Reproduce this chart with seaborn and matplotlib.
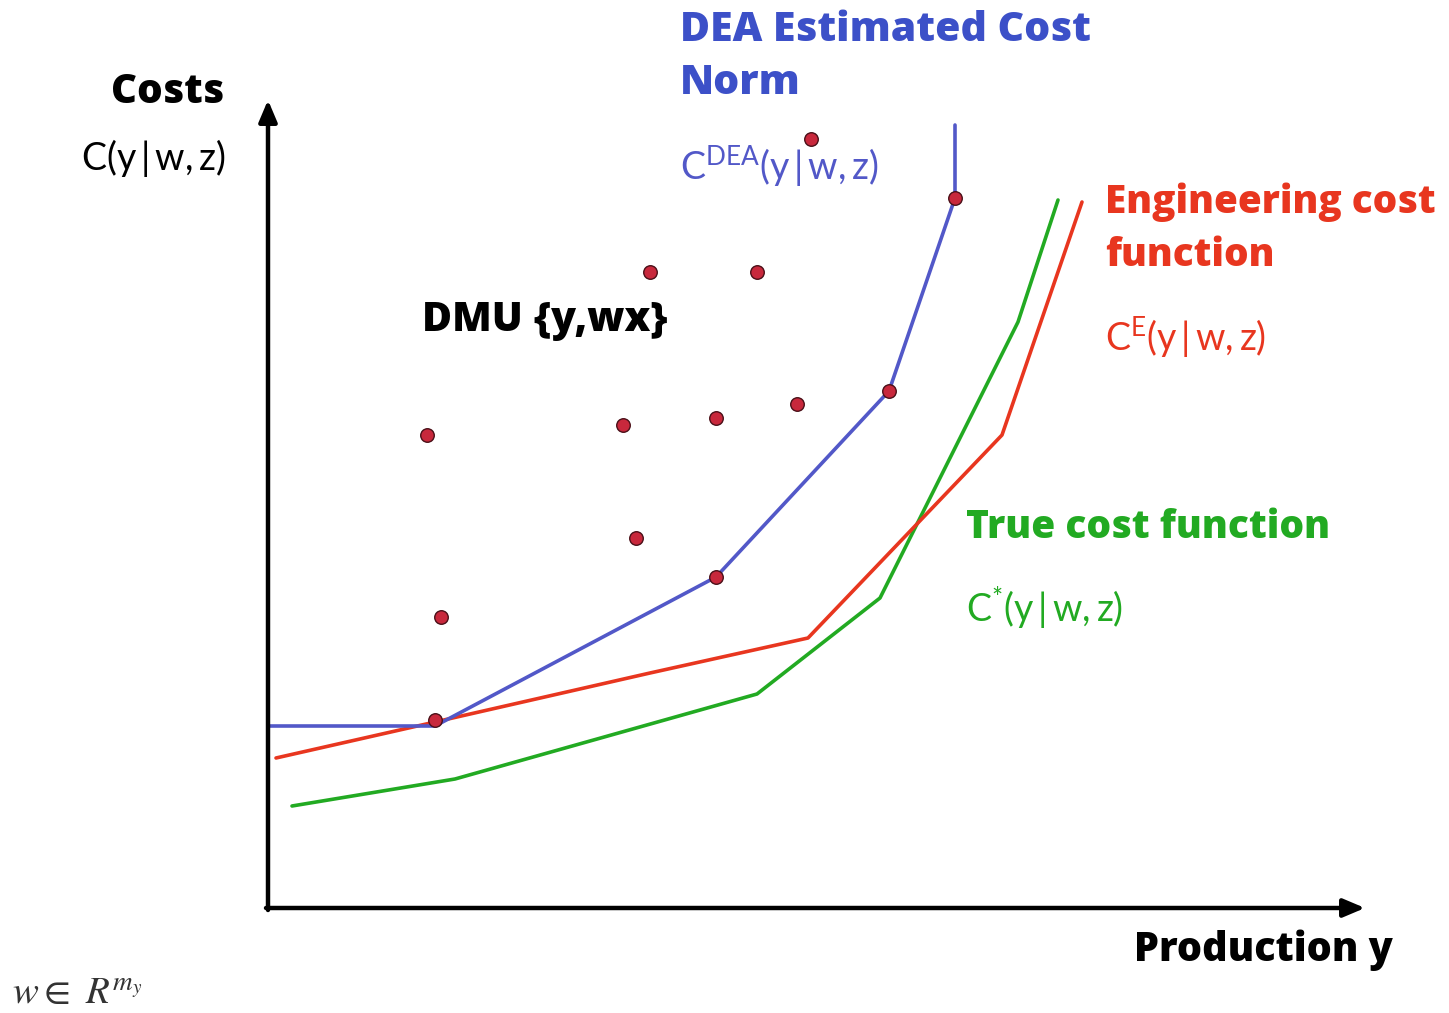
import matplotlib
matplotlib.use("Agg")
import matplotlib.pyplot as plt
import seaborn as sns
import pandas as pd

sns.set_style("white")
plt.rcParams['font.family'] = ['Lato', 'DejaVu Sans']
plt.rcParams['mathtext.fontset'] = 'custom'
plt.rcParams['mathtext.rm'] = 'Lato'
plt.rcParams['mathtext.it'] = 'Lato:italic'

# production (y) and cost values, origin at the axis corner
dea_y = [0, 167, 448, 621, 687, 687]
dea_c = [182, 182, 331, 517, 710, 783]

eng_y = [8, 167, 382, 540, 734, 814]
eng_c = [150, 186, 235, 270, 473, 706]

true_y = [24, 187, 489, 612, 750, 790]
true_c = [102, 129, 214, 310, 586, 708]

dmu_y = [167, 448, 621, 687, 159, 173, 355, 368, 448, 529, 382, 489, 543]
dmu_c = [188, 331, 517, 710, 473, 291, 483, 370, 490, 504, 636, 636, 769]

blue = "#5258c8"
red = "#e8361f"
green = "#22aa22"
bold = ['Open Sans', 'DejaVu Sans']

fig = plt.figure(figsize=(14.49, 10.13), dpi=100)
ax = fig.add_axes([0, 0, 1, 1])
ax.set_xlim(-268, 1181)
ax.set_ylim(-105, 908)
ax.axis("off")

sns.lineplot(x=true_y, y=true_c, color=green, lw=2.6, ax=ax, sort=False, estimator=None)
sns.lineplot(x=eng_y, y=eng_c, color=red, lw=2.6, ax=ax, sort=False, estimator=None)
sns.lineplot(x=dea_y, y=dea_c, color=blue, lw=2.6, ax=ax, sort=False, estimator=None)
sns.scatterplot(x=dmu_y, y=dmu_c, color="#c8283c", edgecolor="#4a1018",
                linewidth=1.0, s=95, ax=ax, zorder=5)

# axes arrows
arrow = dict(arrowstyle="-|>,head_length=1.3,head_width=0.55", color="black",
             lw=3.2, shrinkA=0, shrinkB=0)
ax.annotate("", xy=(0, 808), xytext=(0, -2), arrowprops=arrow)
ax.annotate("", xy=(1097, 0), xytext=(-2, 0), arrowprops=arrow)

ax.text(-44, 816, "Costs", ha="right", va="center", fontsize=29,
        fontweight="heavy", family=bold, color="black")
ax.text(-42, 750, r"$\mathregular{C(y\,|\,w,z)}$", ha="right", va="center",
        fontsize=27, color="black")

ax.text(412, 878, "DEA Estimated Cost", color="#3c50c8", ha="left", va="center",
        fontsize=29.5, fontweight="heavy", family=bold)
ax.text(412, 825, "Norm", color="#3c50c8", ha="left", va="center",
        fontsize=29.5, fontweight="heavy", family=bold)
ax.text(412, 742, r"$\mathregular{C^{DEA}(y\,|\,w,z)}$", color=blue, ha="left",
        va="center", fontsize=27)

ax.text(837, 706, "Engineering cost", color=red, ha="left", va="center",
        fontsize=27.8, fontweight="heavy", family=bold)
ax.text(837, 653, "function", color=red, ha="left", va="center",
        fontsize=27.8, fontweight="heavy", family=bold)
ax.text(837, 571, r"$\mathregular{C^{E}(y\,|\,w,z)}$", color=red, ha="left",
        va="center", fontsize=27)

ax.text(698, 381, "True cost function", color=green, ha="left", va="center",
        fontsize=28, fontweight="heavy", family=bold)
ax.text(698, 301, r"$\mathregular{C^{*}(y\,|\,w,z)}$", color=green, ha="left",
        va="center", fontsize=27)

ax.text(154, 588, "DMU {y,wx}", ha="left", va="center", fontsize=29.5,
        fontweight="heavy", family=bold, color="black")

ax.text(1125, -42, "Production y", ha="right", va="center", fontsize=28.5,
        fontweight="heavy", family=bold, color="black")

ax.text(-256, -85, r"$w \in\ R^{m_y}$", ha="left", va="center", fontsize=28,
        math_fontfamily="stix", color="#333333")

fig.savefig("out.png", dpi=100)
